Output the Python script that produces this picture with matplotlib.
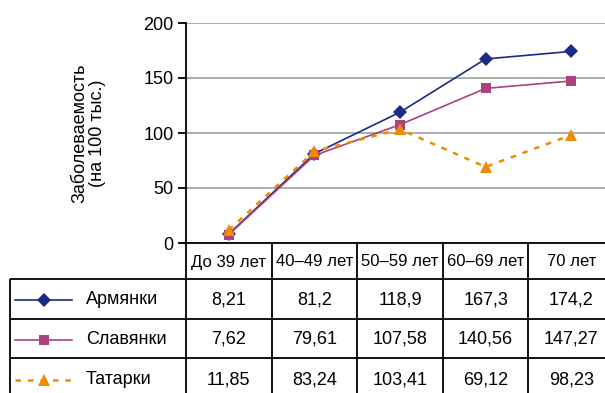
import matplotlib
matplotlib.use("Agg")
import matplotlib.pyplot as plt
import numpy as np

plt.rcParams['font.family'] = ['Liberation Sans', 'DejaVu Sans']

categories = ["До 39 лет", "40–49 лет", "50–59 лет", "60–69 лет", "70 лет"]
series_names = ["Армянки", "Славянки", "Татарки"]
armenian = [8.21, 81.2, 118.9, 167.3, 174.2]
slavic = [7.62, 79.61, 107.58, 140.56, 147.27]
tatar = [11.85, 83.24, 103.41, 69.12, 98.23]
labels = [
    ["8,21", "81,2", "118,9", "167,3", "174,2"],
    ["7,62", "79,61", "107,58", "140,56", "147,27"],
    ["11,85", "83,24", "103,41", "69,12", "98,23"],
]
yticks = [0, 50, 100, 150, 200]

styles = [
    dict(color="#1B2A84", marker="D", markersize=7.5, lw=1.2, ls="-"),
    dict(color="#A8437F", marker="s", markersize=7, lw=1.2, ls="-"),
    dict(color="#EE8A00", marker="^", markersize=8.5, lw=1.8, ls=(0, (2.2, 2.8))),
]

W, H = 605, 393
fig = plt.figure(figsize=(W / 100, H / 100), dpi=100)

# plot area in pixels
x0, x1, ytop, ybot = 186, 614, 23, 243
ax = fig.add_axes([x0 / W, 1 - ybot / H, (x1 - x0) / W, (ybot - ytop) / H])

x = np.arange(len(categories))
for vals, st in zip([armenian, slavic, tatar], styles):
    ax.plot(x, vals, color=st["color"], marker=st["marker"], markersize=st["markersize"],
            lw=st["lw"], ls=st["ls"], markeredgewidth=0, clip_on=False, zorder=3)

ax.set_xlim(-0.5, len(categories) - 0.5)
ax.set_ylim(0, 200)
ax.set_yticks(yticks)
ax.set_yticklabels([str(v) for v in yticks], fontsize=13)
ax.set_xticks([])
ax.yaxis.grid(True, color="#A6A6A6", lw=1.3)
ax.set_axisbelow(True)
for s in ["top", "right"]:
    ax.spines[s].set_visible(False)
ax.spines["bottom"].set_visible(False)
ax.spines["left"].set_linewidth(1.3)
ax.tick_params(axis="y", length=6, width=1.3, pad=3)
ax.set_ylabel("Заболеваемость\n(на 100 тыс.)", fontsize=13, labelpad=27, linespacing=1.05)

# table drawn in pixel coords
tb = fig.add_axes([0, 0, 1, 1], zorder=5)
tb.set_xlim(0, W)
tb.set_ylim(H, 0)
tb.axis("off")
tb.patch.set_alpha(0)

ncol = len(categories)
colw = (x1 - x0) / ncol
col_edges = [x0 + i * colw for i in range(ncol + 1)]
row_edges = [243, 279, 319, 358, 400]
lk = dict(color="black", lw=1.3, solid_capstyle="butt")

tb.plot([180, x1], [243, 243], **lk)
for yr in row_edges[1:4]:
    tb.plot([10, x1], [yr, yr], **lk)
tb.plot([10, 10], [279, 400], **lk)
for xc in col_edges[:-1]:
    tb.plot([xc, xc], [243, 400], **lk)

for i, c in enumerate(categories):
    tb.text(col_edges[i] + colw / 2, (row_edges[0] + row_edges[1]) / 2 + 1, c,
            ha="center", va="center", fontsize=12)

for r, (name, st) in enumerate(zip(series_names, styles)):
    yc = (row_edges[r + 1] + row_edges[r + 2]) / 2 + 1
    tb.plot([15, 72], [yc, yc], color=st["color"], lw=st["lw"], ls=st["ls"])
    tb.plot([43.5], [yc], color=st["color"], marker=st["marker"],
            markersize=st["markersize"], markeredgewidth=0)
    tb.text(86, yc, name, ha="left", va="center", fontsize=13)
    for i, lab in enumerate(labels[r]):
        tb.text(col_edges[i] + colw / 2, yc, lab, ha="center", va="center", fontsize=13)

fig.savefig("out.png", dpi=100)
